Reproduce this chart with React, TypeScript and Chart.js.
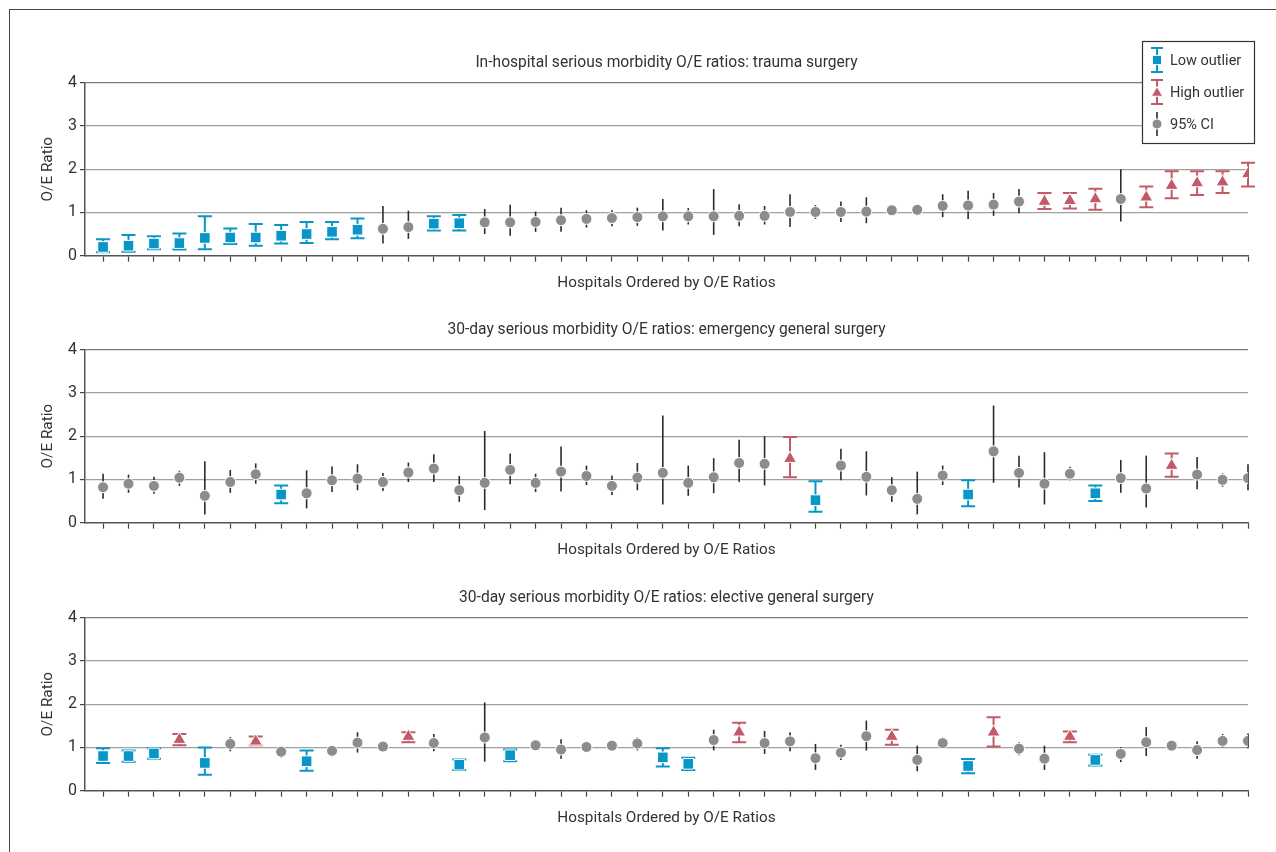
import React, { useEffect, useRef } from "react";
import { Chart, registerables } from "chart.js";

Chart.register(...registerables);

const FONT = "'Liberation Sans Narrow', 'Arial Narrow', 'Roboto', sans-serif";
const TEXT = "#333333";
const BLUE = "#0995c7";
const RED = "#c35a68";
const GRAY = "#8c8c8c";
const WHISKER = "#2b2b2b";

// Hospitals ordered by O/E ratio (category positions 1..46)
const hospitals = [
  1, 2, 3, 4, 5, 6, 7, 8, 9, 10, 11, 12, 13, 14, 15, 16, 17, 18, 19, 20, 21, 22, 23,
  24, 25, 26, 27, 28, 29, 30, 31, 32, 33, 34, 35, 36, 37, 38, 39, 40, 41, 42, 43, 44, 45, 46,
];
const yTicks = [0, 1, 2, 3, 4];

const titles = [
  "In-hospital serious morbidity O/E ratios: trauma surgery",
  "30-day serious morbidity O/E ratios: emergency general surgery",
  "30-day serious morbidity O/E ratios: elective general surgery",
];
const xTitle = "Hospitals Ordered by O/E Ratios";
const yTitle = "O/E Ratio";

// Panel 1: trauma surgery
const oe1 = [0.20, 0.23, 0.28, 0.29, 0.41, 0.42, 0.42, 0.46, 0.50, 0.55, 0.60, 0.62, 0.66, 0.74, 0.75, 0.77, 0.77, 0.78, 0.82, 0.85, 0.87, 0.89, 0.91, 0.91, 0.91, 0.92, 0.92, 1.01, 1.01, 1.01, 1.02, 1.05, 1.06, 1.15, 1.16, 1.18, 1.25, 1.25, 1.27, 1.31, 1.31, 1.35, 1.62, 1.68, 1.70, 1.89];
const lo1 = [0.08, 0.09, 0.15, 0.14, 0.15, 0.27, 0.23, 0.28, 0.29, 0.38, 0.40, 0.28, 0.39, 0.58, 0.58, 0.50, 0.46, 0.55, 0.55, 0.65, 0.68, 0.69, 0.58, 0.72, 0.48, 0.68, 0.72, 0.66, 0.85, 0.78, 0.75, 1.00, 0.98, 0.89, 0.85, 0.92, 0.98, 1.08, 1.09, 1.06, 0.79, 1.12, 1.33, 1.40, 1.45, 1.60];
const hi1 = [0.38, 0.48, 0.45, 0.51, 0.91, 0.63, 0.73, 0.71, 0.78, 0.78, 0.86, 1.15, 1.04, 0.91, 0.94, 1.08, 1.18, 1.02, 1.11, 1.05, 1.05, 1.11, 1.31, 1.10, 1.54, 1.19, 1.15, 1.42, 1.17, 1.25, 1.35, 1.10, 1.13, 1.42, 1.50, 1.45, 1.54, 1.45, 1.45, 1.55, 2.00, 1.60, 1.95, 1.95, 1.95, 2.15];
const status1 = ["L", "L", "L", "L", "L", "L", "L", "L", "L", "L", "L", "N", "N", "L", "L", "N", "N", "N", "N", "N", "N", "N", "N", "N", "N", "N", "N", "N", "N", "N", "N", "N", "N", "N", "N", "N", "N", "H", "H", "H", "N", "H", "H", "H", "H", "H"];

// Panel 2: emergency general surgery
const oe2 = [0.82, 0.90, 0.85, 1.04, 0.62, 0.94, 1.12, 0.65, 0.68, 0.98, 1.02, 0.94, 1.16, 1.25, 0.75, 0.92, 1.22, 0.92, 1.18, 1.08, 0.85, 1.04, 1.15, 0.92, 1.05, 1.38, 1.36, 1.48, 0.52, 1.32, 1.06, 0.75, 0.55, 1.09, 0.65, 1.65, 1.15, 0.90, 1.13, 0.68, 1.03, 0.79, 1.32, 1.11, 0.99, 1.03];
const lo2 = [0.55, 0.69, 0.67, 0.85, 0.19, 0.69, 0.90, 0.45, 0.33, 0.71, 0.75, 0.73, 0.94, 0.94, 0.48, 0.29, 0.89, 0.71, 0.72, 0.87, 0.64, 0.75, 0.42, 0.62, 0.68, 0.94, 0.86, 1.05, 0.25, 0.98, 0.63, 0.48, 0.19, 0.87, 0.38, 0.92, 0.81, 0.42, 0.98, 0.50, 0.69, 0.35, 1.06, 0.77, 0.83, 0.75];
const hi2 = [1.13, 1.11, 1.06, 1.20, 1.42, 1.22, 1.37, 0.86, 1.21, 1.30, 1.35, 1.15, 1.39, 1.58, 1.08, 2.12, 1.60, 1.13, 1.76, 1.32, 1.09, 1.38, 2.48, 1.32, 1.49, 1.92, 2.00, 1.98, 0.96, 1.71, 1.65, 1.05, 1.18, 1.32, 0.98, 2.71, 1.55, 1.63, 1.29, 0.86, 1.45, 1.55, 1.60, 1.52, 1.14, 1.35];
const status2 = ["N", "N", "N", "N", "N", "N", "N", "L", "N", "N", "N", "N", "N", "N", "N", "N", "N", "N", "N", "N", "N", "N", "N", "N", "N", "N", "N", "H", "L", "N", "N", "N", "N", "N", "L", "N", "N", "N", "N", "L", "N", "N", "H", "N", "N", "N"];

// Panel 3: elective general surgery
const oe3 = [0.80, 0.80, 0.86, 1.18, 0.64, 1.08, 1.14, 0.90, 0.68, 0.92, 1.11, 1.02, 1.25, 1.10, 0.60, 1.23, 0.82, 1.05, 0.95, 1.01, 1.04, 1.09, 0.77, 0.62, 1.17, 1.35, 1.10, 1.14, 0.75, 0.88, 1.26, 1.25, 0.71, 1.10, 0.57, 1.35, 0.97, 0.74, 1.25, 0.71, 0.85, 1.12, 1.04, 0.94, 1.15, 1.15];
const lo3 = [0.64, 0.67, 0.74, 1.05, 0.37, 0.91, 1.05, 0.76, 0.46, 0.79, 0.88, 0.98, 1.12, 0.91, 0.48, 0.67, 0.68, 0.92, 0.74, 0.98, 1.00, 0.93, 0.56, 0.48, 0.93, 1.12, 0.85, 0.91, 0.48, 0.71, 0.93, 1.06, 0.45, 1.06, 0.40, 1.02, 0.82, 0.48, 1.12, 0.58, 0.66, 0.80, 1.00, 0.74, 1.00, 0.98];
const hi3 = [0.98, 0.93, 0.98, 1.31, 1.00, 1.24, 1.25, 1.02, 0.93, 1.04, 1.35, 1.06, 1.35, 1.31, 0.72, 2.04, 0.95, 1.14, 1.19, 1.04, 1.08, 1.23, 0.98, 0.76, 1.41, 1.57, 1.38, 1.35, 1.08, 1.06, 1.62, 1.41, 1.04, 1.14, 0.73, 1.70, 1.12, 1.04, 1.37, 0.83, 1.01, 1.47, 1.08, 1.14, 1.31, 1.32];
const status3 = ["L", "L", "L", "H", "L", "N", "H", "N", "L", "N", "N", "N", "H", "N", "L", "N", "L", "N", "N", "N", "N", "N", "L", "L", "N", "H", "N", "N", "N", "N", "N", "H", "N", "N", "L", "H", "N", "N", "H", "L", "N", "N", "N", "N", "N", "N"];

const legendLabels = ["Low outlier", "High outlier", "95% CI"];

const panels = [
  { title: titles[0], oe: oe1, lo: lo1, hi: hi1, status: status1, legend: true },
  { title: titles[1], oe: oe2, lo: lo2, hi: hi2, status: status2, legend: false },
  { title: titles[2], oe: oe3, lo: lo3, hi: hi3, status: status3, legend: false },
];

const CANVAS_W = 1276;
const CANVAS_H = 275;
const PANEL_TOP0 = 30;
const PANEL_STEP = 267.3;

const groups = [
  { key: "N", label: legendLabels[2], color: GRAY, style: "circle", radius: 5.5, caps: false, barColor: WHISKER, barWidth: 1.6 },
  { key: "L", label: legendLabels[0], color: BLUE, style: "rect", radius: 7.5, caps: true, barColor: BLUE, barWidth: 2 },
  { key: "H", label: legendLabels[1], color: RED, style: "triangle", radius: 7.5, caps: true, barColor: RED, barWidth: 2 },
];

function buildDatasets(oe: number[], lo: number[], hi: number[], status: string[]) {
  return groups.map((g) => {
    const data = hospitals
      .map((h, i) => ({ x: h, y: oe[i], lo: lo[i], hi: hi[i], s: status[i] }))
      .filter((d) => d.s === g.key);
    return {
      label: g.label,
      data,
      pointStyle: g.style,
      pointRadius: g.radius,
      pointHoverRadius: g.radius,
      backgroundColor: g.color,
      borderColor: "#ffffff",
      borderWidth: 1,
      showLine: false,
      caps: g.caps,
      barColor: g.barColor,
      barWidth: g.barWidth,
    } as any;
  });
}

const errorBarPlugin = {
  id: "errorBars",
  beforeDatasetsDraw(chart: any) {
    const { ctx } = chart;
    const y = chart.scales.y;
    chart.data.datasets.forEach((ds: any, di: number) => {
      const meta = chart.getDatasetMeta(di);
      meta.data.forEach((pt: any, i: number) => {
        const d = ds.data[i];
        const x = pt.x;
        const yHi = y.getPixelForValue(d.hi);
        const yLo = y.getPixelForValue(d.lo);
        ctx.save();
        ctx.strokeStyle = ds.barColor;
        ctx.lineWidth = ds.barWidth;
        ctx.beginPath();
        ctx.moveTo(x, yHi);
        ctx.lineTo(x, yLo);
        if (ds.caps) {
          ctx.moveTo(x - 7, yHi);
          ctx.lineTo(x + 7, yHi);
          ctx.moveTo(x - 7, yLo);
          ctx.lineTo(x + 7, yLo);
        }
        ctx.stroke();
        ctx.restore();
      });
    });
  },
};

function drawSymbol(ctx: CanvasRenderingContext2D, style: string, x: number, y: number, r: number, color: string) {
  ctx.save();
  ctx.fillStyle = color;
  ctx.strokeStyle = "#ffffff";
  ctx.lineWidth = 1;
  ctx.beginPath();
  if (style === "circle") {
    ctx.arc(x, y, r, 0, Math.PI * 2);
  } else if (style === "rect") {
    const s = r * Math.SQRT1_2;
    ctx.rect(x - s, y - s, 2 * s, 2 * s);
  } else {
    ctx.moveTo(x, y - r);
    ctx.lineTo(x + r * 0.866, y + r * 0.5);
    ctx.lineTo(x - r * 0.866, y + r * 0.5);
    ctx.closePath();
  }
  ctx.fill();
  ctx.stroke();
  ctx.restore();
}

function makeLegendPlugin(canvasTop: number) {
  return {
    id: "customLegend",
    afterDraw(chart: any) {
      const { ctx } = chart;
      const x0 = 1142;
      const y0 = 41 - canvasTop;
      const w = 112;
      const h = 102;
      ctx.save();
      ctx.fillStyle = "#ffffff";
      ctx.fillRect(x0, y0, w, h);
      ctx.strokeStyle = "#333333";
      ctx.lineWidth = 1.2;
      ctx.strokeRect(x0 + 0.5, y0 + 0.5, w, h);
      const items = [groups[1], groups[2], groups[0]];
      const ys = [60, 92, 124];
      items.forEach((g, k) => {
        const cy = ys[k] - canvasTop;
        const cx = 1157;
        ctx.strokeStyle = g.barColor;
        ctx.lineWidth = g.caps ? 2 : 1.6;
        ctx.beginPath();
        ctx.moveTo(cx, cy - 12);
        ctx.lineTo(cx, cy + 12);
        if (g.caps) {
          ctx.moveTo(cx - 6, cy - 12);
          ctx.lineTo(cx + 6, cy - 12);
          ctx.moveTo(cx - 6, cy + 12);
          ctx.lineTo(cx + 6, cy + 12);
        }
        ctx.stroke();
        drawSymbol(ctx, g.style, cx, g.style === "triangle" ? cy + 1 : cy, g.style === "circle" ? 5 : 6.5, g.color);
        ctx.fillStyle = TEXT;
        ctx.font = `14.5px ${FONT}`;
        ctx.textAlign = "left";
        ctx.textBaseline = "middle";
        ctx.fillText(g.label, 1170, cy + 1);
      });
      ctx.restore();
    },
  };
}

function Panel({ index }: { index: number }) {
  const ref = useRef<HTMLCanvasElement | null>(null);
  const p = panels[index];
  const top = PANEL_TOP0 + PANEL_STEP * index;
  useEffect(() => {
    if (!ref.current) return;
    const plugins: any[] = [errorBarPlugin];
    if (p.legend) plugins.push(makeLegendPlugin(top));
    const chart = new Chart(ref.current, {
      type: "scatter",
      data: { datasets: buildDatasets(p.oe, p.lo, p.hi, p.status) },
      plugins,
      options: {
        animation: false,
        responsive: false,
        devicePixelRatio: 1,
        layout: { padding: { left: 0, right: 28, top: 0, bottom: 0 } },
        plugins: {
          legend: { display: false },
          tooltip: { enabled: false },
          title: {
            display: true,
            fullSize: false,
            text: p.title,
            color: TEXT,
            font: { family: FONT, size: 15.6, weight: "normal" as any, lineHeight: 1.2 },
            padding: { top: 23.5, bottom: 10.5 },
          },
        },
        scales: {
          x: {
            type: "linear",
            min: 0.29,
            max: 46,
            afterBuildTicks: (scale: any) => {
              scale.ticks = hospitals.map((v) => ({ value: v }));
            },
            ticks: { display: false },
            grid: {
              display: true,
              drawOnChartArea: false,
              drawTicks: true,
              tickLength: 6,
              tickColor: "#444444",
              tickWidth: 1.2,
            },
            border: { display: true, color: "#555555", width: 1.5 },
            title: {
              display: true,
              text: xTitle,
              color: TEXT,
              font: { family: FONT, size: 15.3, lineHeight: 1.2 },
              padding: { top: 12, bottom: 13 },
            },
          },
          y: {
            type: "linear",
            min: 0,
            max: 4,
            afterBuildTicks: (scale: any) => {
              scale.ticks = yTicks.map((v) => ({ value: v }));
            },
            afterFit: (scale: any) => {
              scale.width = 85;
            },
            ticks: {
              color: TEXT,
              font: { family: FONT, size: 16 },
              padding: 3,
            },
            grid: {
              display: true,
              drawTicks: true,
              tickLength: 5,
              tickColor: "#444444",
              tickWidth: 1.2,
              lineWidth: 1.2,
              color: (c: any) => (c.tick && c.tick.value === 0 ? "rgba(0,0,0,0)" : c.tick && c.tick.value === 4 ? "#7a7a7a" : "#a0a0a0"),
            },
            border: { display: true, color: "#555555", width: 1.5 },
            title: {
              display: true,
              text: yTitle,
              color: TEXT,
              font: { family: FONT, size: 15.3, lineHeight: 1.2 },
              padding: { top: 39, bottom: 0 },
            },
          },
        },
      } as any,
    });
    return () => chart.destroy();
  }, []);
  return (
    <canvas
      ref={ref}
      width={CANVAS_W}
      height={CANVAS_H}
      style={{ position: "absolute", left: 0, top: top, width: CANVAS_W, height: CANVAS_H }}
    />
  );
}

export default function App() {
  return (
    <div
      style={{
        position: "absolute",
        left: 0,
        top: 0,
        width: 1276,
        height: 852,
        overflow: "hidden",
        background: "#ffffff",
      }}
    >
      <div
        style={{
          position: "absolute",
          left: 9,
          top: 9,
          width: 1400,
          height: 1000,
          borderLeft: "1.5px solid #444",
          borderTop: "1.5px solid #444",
        }}
      />
      {panels.map((_, i) => (
        <Panel key={i} index={i} />
      ))}
    </div>
  );
}
